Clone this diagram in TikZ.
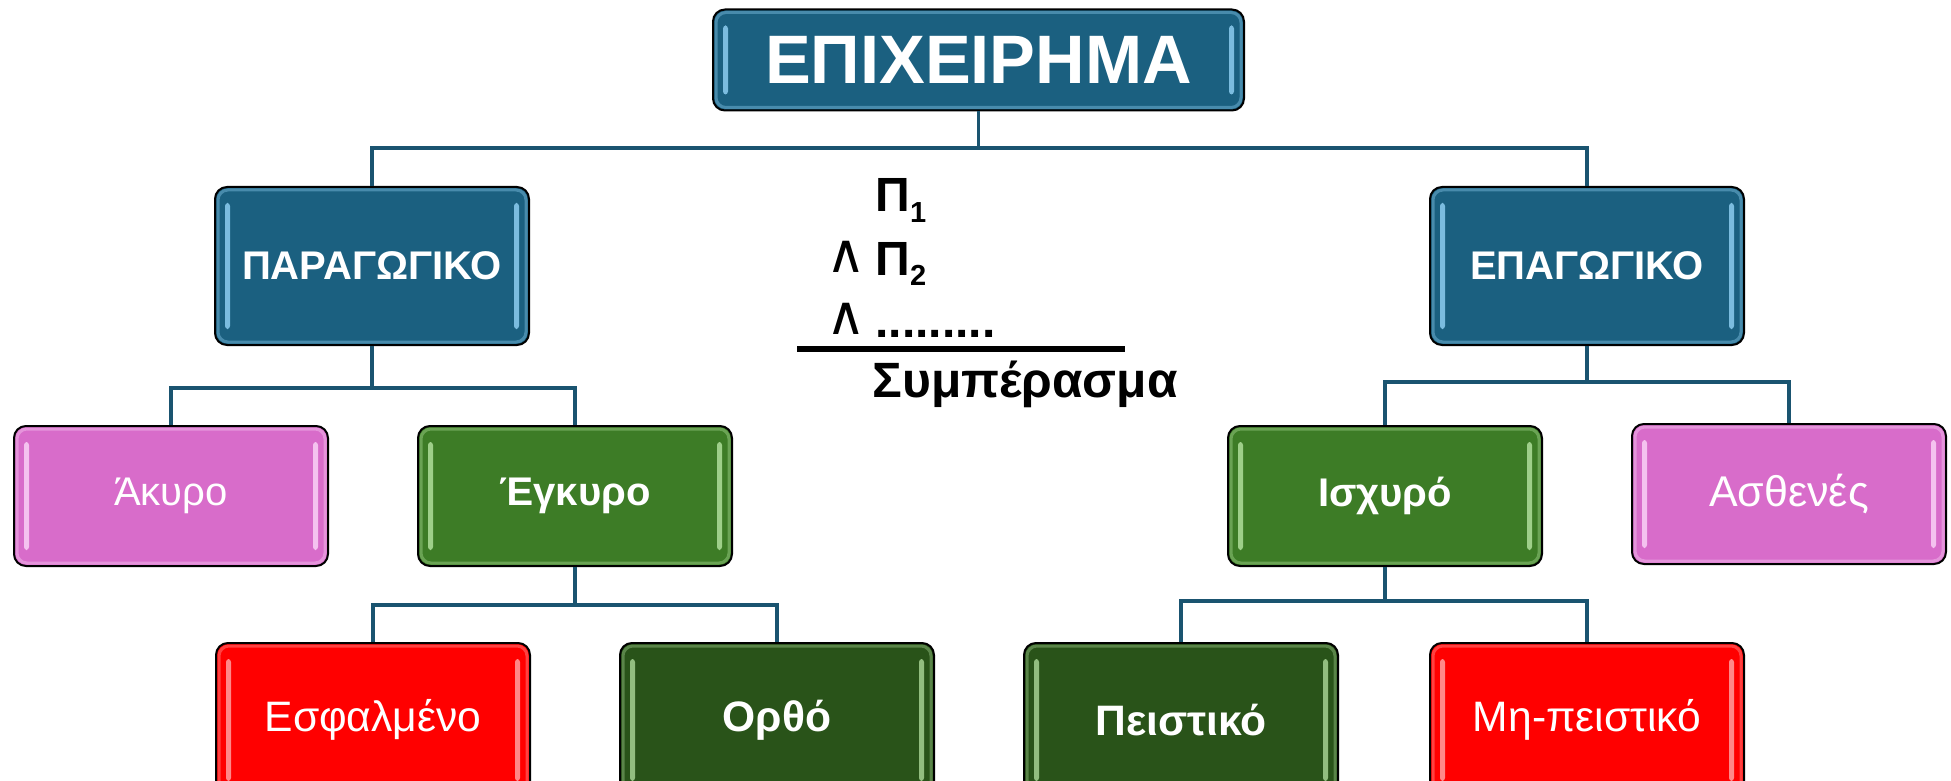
\documentclass[tikz,border=0pt]{standalone}
\usepackage{fontspec}
\setmainfont{Liberation Sans}
\newfontfamily\dejavu{DejaVu Sans}
\definecolor{cblue}{RGB}{27,96,128}
\definecolor{cbluehl}{RGB}{140,205,240}
\definecolor{cpink}{RGB}{216,108,202}
\definecolor{cpinkhl}{RGB}{250,210,246}
\definecolor{cgreen}{RGB}{61,124,38}
\definecolor{cgreenhl}{RGB}{175,222,155}
\definecolor{cdgreen}{RGB}{41,83,25}
\definecolor{cdgreenhl}{RGB}{165,208,145}
\definecolor{cred}{RGB}{255,0,0}
\definecolor{credhl}{RGB}{255,160,160}
\definecolor{cline}{RGB}{26,84,112}
\newcommand{\subidx}[1]{\raisebox{-5.5pt}{\fontsize{14.5}{16}\selectfont #1}}
\newcommand{\andsym}{\raisebox{1.5pt}{\dejavu\mdseries\fontsize{27}{29}\selectfont ∧}}
\tikzset{
  gloss/.style={path picture={
    \fill[#1,opacity=0.85,rounded corners=1.5pt] ([xshift=5pt,yshift=-8pt]path picture bounding box.north west) rectangle ([xshift=7.5pt,yshift=8pt]path picture bounding box.south west);
    \fill[#1,opacity=0.85,rounded corners=1.5pt] ([xshift=-5pt,yshift=-8pt]path picture bounding box.north east) rectangle ([xshift=-7.5pt,yshift=8pt]path picture bounding box.south east);
    \draw[#1,opacity=0.4,line width=1.5pt,rounded corners=5pt] ([xshift=1.5pt,yshift=-1.5pt]path picture bounding box.north west) rectangle ([xshift=-1.5pt,yshift=1.5pt]path picture bounding box.south east);
  }},
  box/.style={rectangle,rounded corners=6pt,draw=black,line width=1pt,
    minimum width=157pt,inner sep=0pt,text=white,
    font=\fontsize{20}{24}\selectfont},
  rowa/.style={box,minimum height=79pt,font=\fontsize{20}{24}\selectfont\bfseries},
  rowb/.style={box,minimum height=70pt},
  rowc/.style={box,minimum height=77pt,font=\fontsize{21.3}{24}\selectfont},
  bluebox/.style={fill=cblue,gloss=cbluehl},
  pinkbox/.style={fill=cpink,gloss=cpinkhl},
  greenbox/.style={fill=cgreen,gloss=cgreenhl,font=\fontsize{20}{24}\selectfont\bfseries},
  dgreenbox/.style={fill=cdgreen,gloss=cdgreenhl,font=\fontsize{21.3}{24}\selectfont\bfseries},
  redbox/.style={fill=cred,gloss=credhl},
  conn/.style={draw=cline,line width=1.8pt},
  argtext/.style={inner sep=0pt,anchor=base west,font=\fontsize{24}{28}\selectfont\bfseries},
}
\begin{document}
\begin{tikzpicture}[x=0.5pt,y=-0.5pt]
\useasboundingbox (0,0) rectangle (1951,781);
% boxes
\node[box,bluebox,minimum width=265.5pt,minimum height=50.5pt,font=\fontsize{34.3}{38}\selectfont\bfseries] (top) at (978.5,60) {ΕΠΙΧΕΙΡΗΜΑ};
\node[rowa,bluebox] (parag) at (372,266) {ΠΑΡΑΓΩΓΙΚΟ};
\node[rowa,bluebox] (epag) at (1587,266) {ΕΠΑΓΩΓΙΚΟ};
\node[rowb,pinkbox] (akyro) at (171,496) {Άκυρο};
\node[rowb,greenbox] (egkyro) at (575,496) {Έγκυρο};
\node[rowb,greenbox] (ischyro) at (1385,496) {Ισχυρό};
\node[rowb,pinkbox,font=\fontsize{21.5}{24}\selectfont] (asthenes) at (1789,494) {Ασθενές};
\node[rowc,redbox] (esfal) at (373,720) {Εσφαλμένο};
\node[rowc,dgreenbox] (ortho) at (777,720) {Ορθό};
\node[rowc,dgreenbox] (peist) at (1181,720) {Πειστικό};
\node[rowc,redbox] (mipeist) at (1587,720) {Μη-πειστικό};
% buses
\coordinate (b0) at (978.5,148);
\coordinate (b1) at (372,388);
\coordinate (b2) at (1587,382);
\coordinate (b3) at (575,605);
\coordinate (b4) at (1385,601);
\draw[conn] (top.south) -- (top.south |- b0) -| (parag.north);
\draw[conn] (top.south |- b0) -| (epag.north);
\draw[conn] (parag.south) -- (parag.south |- b1) -| (akyro.north);
\draw[conn] (parag.south |- b1) -| (egkyro.north);
\draw[conn] (epag.south) -- (epag.south |- b2) -| (ischyro.north);
\draw[conn] (epag.south |- b2) -| (asthenes.north);
\draw[conn] (egkyro.south) -- (egkyro.south |- b3) -| (esfal.north);
\draw[conn] (egkyro.south |- b3) -| (ortho.north);
\draw[conn] (ischyro.south) -- (ischyro.south |- b4) -| (peist.north);
\draw[conn] (ischyro.south |- b4) -| (mipeist.north);
% argument form
\node[argtext] (p1) at (875,212) {Π\subidx{1}};
\node[argtext] (p2) at (826,275) {\makebox[24.5pt][l]{\andsym}Π\subidx{2}};
\node[argtext] (p3) at (826,337) {\makebox[24.5pt][l]{\andsym}.........};
\coordinate (r1) at (797,349);
\coordinate (r2) at (1125,349);
\draw[line width=2.6pt] (r1) -- (r2);
\node[argtext,font=\fontsize{24.8}{28}\selectfont\bfseries] (concl) at (872,397) {Συμπέρασμα};
\end{tikzpicture}
\end{document}
